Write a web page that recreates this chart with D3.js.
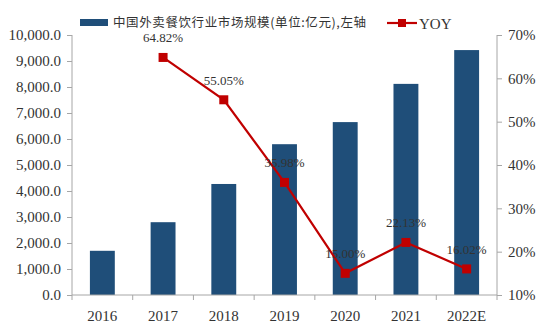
<!DOCTYPE html>
<html><head><meta charset="utf-8">
<script src="https://cdn.jsdelivr.net/npm/d3@7"></script>
<style>
body{margin:0;background:#fff;}
text{font-family:"Liberation Serif","DejaVu Serif",serif;fill:#333;}
.cjk{font-family:"Noto Sans CJK SC",sans-serif;}
</style></head>
<body><svg id="c" width="559" height="333"></svg>
<script>
const categories = ["2016","2017","2018","2019","2020","2021","2022E"];
const marketSize = [1700, 2800, 4270, 5800, 6650, 8120, 9420];
const yoy = [null, 64.82, 55.05, 35.98, 15.00, 22.13, 16.02];
const leftTicks = [0,1000,2000,3000,4000,5000,6000,7000,8000,9000,10000];
const rightTicks = [10,20,30,40,50,60,70];
const barLabel = "中国外卖餐饮行业市场规模(单位:亿元),左轴";
const lineLabel = "YOY";

const svg = d3.select("#c");
const m = {l:72, r:497, t:35, b:295};
const x = d3.scaleBand().domain(categories).range([m.l, m.r]).paddingInner(0.59).paddingOuter(0.295);
const yL = d3.scaleLinear().domain([0,10000]).range([m.b, m.t]);
const yR = d3.scaleLinear().domain([10,70]).range([m.b, m.t]);
const axisColor = "#a6a6a6";
const blue = "#1f4e79", red = "#c00000";

// bars
svg.append("g").selectAll("rect").data(marketSize).join("rect")
  .attr("x",(d,i)=>x(categories[i])).attr("width",x.bandwidth())
  .attr("y",d=>yL(d)).attr("height",d=>yL(0)-yL(d)).attr("fill",blue);

// left axis
const gl = svg.append("g").attr("transform",`translate(${m.l},0)`)
  .call(d3.axisLeft(yL).tickValues(leftTicks).tickSize(5).tickPadding(6).tickFormat(d=>d3.format(",.1f")(d)));
gl.selectAll("text").style("font-size","15px").attr("fill","#333");
// right axis
const gr = svg.append("g").attr("transform",`translate(${m.r},0)`)
  .call(d3.axisRight(yR).tickValues(rightTicks).tickSize(5).tickPadding(6).tickFormat(d=>d+"%"));
gr.selectAll("text").style("font-size","15px").attr("fill","#333");
// bottom axis
const gb = svg.append("g").attr("transform",`translate(0,${m.b})`)
  .call(d3.axisBottom(x).tickSize(0).tickPadding(15));
gb.selectAll("text").style("font-size","15px").attr("fill","#333");
const step = x.step();
gb.selectAll(".bt").data(d3.range(categories.length+1)).join("line")
  .attr("x1",i=>m.l+i*step).attr("x2",i=>m.l+i*step).attr("y1",0).attr("y2",5).attr("stroke",axisColor);
[gl,gr,gb].forEach(g=>{g.select(".domain").attr("stroke",axisColor);g.selectAll(".tick line").attr("stroke",axisColor);});
gl.select(".domain").attr("d",`M0,${m.t}V${m.b}`);
gr.select(".domain").attr("d",`M0,${m.t}V${m.b}`);
gb.select(".domain").attr("d",`M${m.l},0H${m.r}`);

// line
const pts = yoy.map((v,i)=>({c:categories[i],v})).filter(d=>d.v!==null);
const cx = d=>x(d.c)+x.bandwidth()/2;
svg.append("path").datum(pts).attr("fill","none").attr("stroke",red).attr("stroke-width",2.2)
  .attr("d",d3.line().x(cx).y(d=>yR(d.v)));
svg.append("g").selectAll("rect").data(pts).join("rect")
  .attr("x",d=>cx(d)-4.5).attr("y",d=>yR(d.v)-4.5).attr("width",9).attr("height",9).attr("fill",red);
svg.append("g").selectAll("text").data(pts).join("text")
  .attr("x",cx).attr("y",d=>yR(d.v)-15).attr("text-anchor","middle")
  .style("font-size","13px").text(d=>d.v.toFixed(2)+"%");

// legend
svg.append("rect").attr("x",80).attr("y",19).attr("width",28).attr("height",7).attr("fill",blue);
svg.append("text").attr("class","cjk").attr("x",113).attr("y",27).style("font-size","12.5px").style("letter-spacing","0.6px").text(barLabel);
svg.append("line").attr("x1",387).attr("x2",417).attr("y1",23).attr("y2",23).attr("stroke",red).attr("stroke-width",2.2);
svg.append("rect").attr("x",398).attr("y",19).attr("width",8).attr("height",8).attr("fill",red);
svg.append("text").attr("x",419).attr("y",29).style("font-size","15px").text(lineLabel);
</script></body></html>
